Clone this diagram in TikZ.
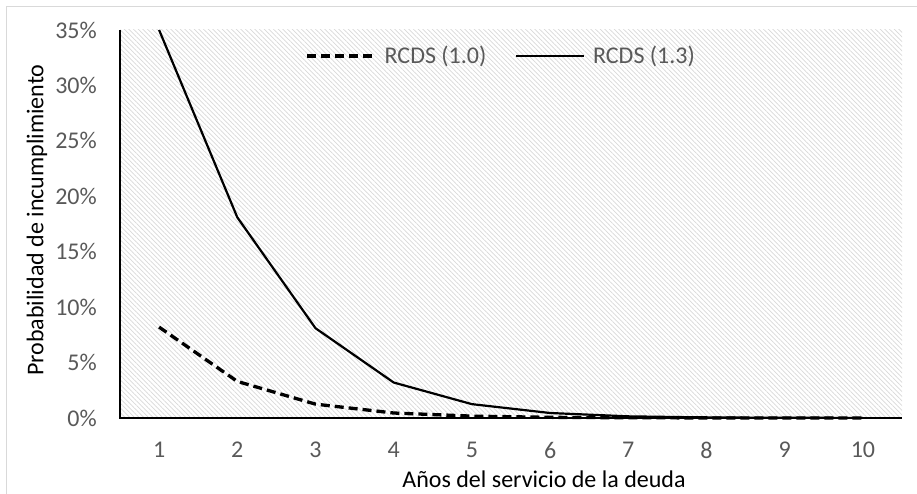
\documentclass[tikz,border=0pt]{standalone}
\usepackage{fontspec}
\setmainfont{Carlito}
\usetikzlibrary{patterns.meta}
\definecolor{TickClr}{HTML}{595959}
\definecolor{HatchClr}{HTML}{D8D8D8}
\definecolor{FrameClr}{HTML}{D9D9D9}

\begin{document}
\begin{tikzpicture}[x=1pt,y=1pt,
  ticklbl/.style={text=TickClr,font=\fontsize{24}{28}\selectfont,inner sep=0pt},
  axtitle/.style={text=black,font=\fontsize{24}{28}\selectfont,inner sep=0pt},
  hatch/.style={pattern={Lines[angle=-45,distance=3.3pt,line width=0.7pt]},pattern color=HatchClr},
  rcdsa/.style={line width=3.3pt,dash pattern=on 9pt off 5pt,line join=round},
  rcdsb/.style={line width=2.2pt,line join=round}]
\useasboundingbox (0,0) rectangle (917,493);
% marco exterior
\draw[FrameClr,line width=1.5pt] (6.5,-5) -- (6.5,486.5) -- (930,486.5);
% area del grafico
\fill[hatch] (120,75) rectangle (902,463);

\begin{scope}[shift={(80.9,75)},x=78.2pt,y=11.086pt]
  \foreach \p in {0,5,...,35}
    \node[ticklbl,anchor=east,xshift=-23pt] (y\p) at (0.5,\p) {\p\%};
  \foreach \i in {1,...,10}
    \node[ticklbl,yshift=-32pt] (x\i) at (\i,0) {\i};
  % ejes
  \draw[line width=1.8pt] (0.5,35) -- (0.5,0) -- (10.5,0);
  % series
  \draw[rcdsa] plot coordinates {(1,8.2) (2,3.3) (3,1.25) (4,0.45) (5,0.17)
    (6,0.06) (7,0.02) (8,0.01) (9,0) (10,0)};
  \draw[rcdsb] plot coordinates {(1,35) (2,18.1) (3,8.1) (4,3.2) (5,1.25)
    (6,0.45) (7,0.15) (8,0.05) (9,0.02) (10,0.01)};
\end{scope}

% leyenda
\coordinate (la) at (307,437);
\coordinate (lb) at (516,437);
\draw[rcdsa] (la) -- ++(68,0) node[ticklbl,anchor=west,xshift=8pt] (lega) {RCDS (1.0)};
\draw[rcdsb] (lb) -- ++(68,0) node[ticklbl,anchor=west,xshift=8pt] (legb) {RCDS (1.3)};

% titulos
\node[axtitle,rotate=90] (ytitle) at (37,273) {Probabilidad de incumplimiento};
\node[axtitle] (xtitle) at (544,14) {Años del servicio de la deuda};
\end{tikzpicture}
\end{document}
